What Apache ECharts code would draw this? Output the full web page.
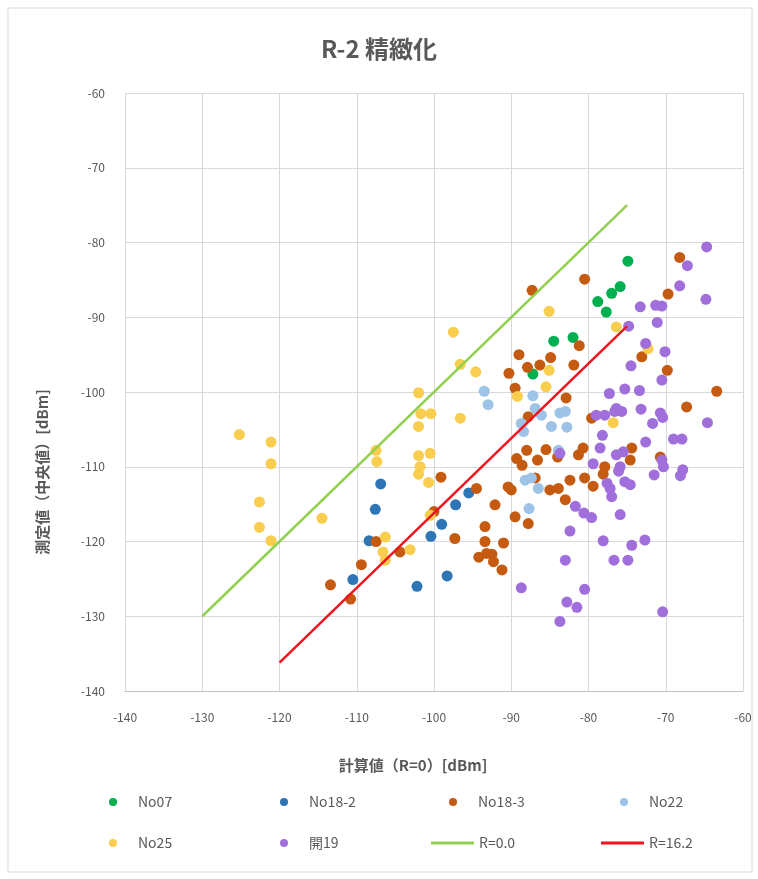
<!DOCTYPE html>
<html><head><meta charset="utf-8">
<script src="https://cdn.jsdelivr.net/npm/echarts@6/dist/echarts.min.js"></script>
<style>html,body{margin:0;padding:0;background:#fff}#c{width:758px;height:879px}</style>
</head><body><div id="c"></div>
<script>
const seriesNames = ['No07','No18-2','No18-3','No22','No25','開19','R=0.0','R=16.2'];
const xTicks = [-140,-130,-120,-110,-100,-90,-80,-70,-60];
const yTicks = [-60,-70,-80,-90,-100,-110,-120,-130,-140];

const no07 = [[-74.9,-82.5],[-75.9,-85.9],[-77.0,-86.8],[-78.8,-87.9],[-77.7,-89.3],[-84.5,-93.2],[-82.0,-92.7],[-87.2,-97.6]];
const no18_2 = [[-106.9,-112.3],[-107.6,-115.7],[-108.4,-119.9],[-110.5,-125.1],[-102.2,-126.0],[-98.3,-124.6],[-100.4,-119.3],[-99.0,-117.7],[-97.2,-115.1],[-95.5,-113.5]];
const no18_3 = [[-80.5,-84.9],[-87.3,-86.4],[-81.2,-93.8],[-89.0,-95.0],[-84.9,-95.4],[-87.9,-96.7],[-86.3,-96.4],[-90.3,-97.5],[-81.9,-96.4],[-89.5,-99.5],[-82.9,-100.8],
[-68.2,-82.0],[-69.7,-86.9],[-73.1,-95.3],[-69.8,-97.1],[-63.4,-99.9],[-67.3,-102.0],[-70.7,-108.7],
[-87.8,-103.3],[-79.6,-103.5],[-89.3,-108.9],[-88.6,-109.8],[-88.0,-107.8],[-86.6,-109.1],[-85.5,-107.7],[-84.0,-108.7],[-81.3,-108.4],[-80.7,-107.5],[-77.9,-110.0],[-78.1,-111.0],[-74.4,-107.5],[-74.6,-109.1],[-86.9,-111.5],[-85.0,-113.1],[-83.9,-112.9],[-83.0,-114.4],[-82.4,-111.8],[-80.5,-111.5],[-79.4,-112.6],[-90.4,-112.7],[-90.0,-113.1],[-92.1,-115.1],[-89.5,-116.7],[-87.8,-117.6],[-93.4,-118.0],[-93.4,-120.0],[-91.0,-120.2],[-93.2,-121.6],[-92.5,-121.7],[-92.3,-122.7],[-91.2,-123.8],
[-99.1,-111.4],[-94.5,-112.9],[-94.2,-122.1],[-97.3,-119.6],[-100.0,-116.0],[-104.4,-121.4],[-107.5,-120.0],[-109.4,-123.1],[-113.4,-125.8],[-110.8,-127.7]];
const no22 = [[-93.5,-99.9],[-93.0,-101.7],[-87.2,-100.5],[-86.9,-102.2],[-86.1,-103.1],[-84.8,-104.6],[-83.7,-102.8],[-83.0,-102.6],[-82.8,-104.7],[-88.7,-104.2],[-88.4,-105.3],[-83.9,-107.8],[-88.2,-111.8],[-87.4,-111.5],[-86.5,-112.9],[-87.7,-115.6]];
const no25 = [[-125.2,-105.7],[-121.1,-106.7],[-121.1,-109.6],[-122.6,-114.7],[-122.6,-118.1],[-121.1,-119.9],[-114.5,-116.9],
[-97.5,-92.0],[-96.6,-96.3],[-94.6,-97.3],[-102.0,-100.1],[-101.7,-102.9],[-100.4,-102.9],[-102.0,-104.6],[-96.6,-103.5],[-107.5,-107.8],[-107.4,-109.3],[-102.0,-108.5],[-100.5,-108.2],[-101.8,-110.0],[-102.0,-111.0],[-100.7,-112.1],
[-85.1,-89.2],[-85.1,-97.1],[-85.5,-99.3],[-89.2,-100.6],[-76.4,-91.3],[-72.3,-94.2],[-76.8,-104.1],
[-106.3,-119.4],[-106.6,-121.4],[-106.3,-122.5],[-103.1,-121.1],[-100.5,-116.5]];
const kai19 = [[-64.7,-80.6],[-67.2,-83.1],[-68.2,-85.8],[-64.8,-87.6],[-73.3,-88.6],[-71.3,-88.4],[-70.5,-88.5],[-71.1,-90.7],[-74.8,-91.2],[-72.6,-93.5],[-70.1,-94.6],[-74.5,-96.5],[-70.5,-98.4],[-77.3,-100.2],[-75.3,-99.6],[-73.4,-99.8],[-76.6,-102.6],[-75.7,-102.6],[-77.9,-103.1],[-73.2,-102.3],[-70.7,-102.8],[-70.4,-103.4],[-71.7,-104.2],[-64.6,-104.1],
[-72.6,-106.7],[-69.0,-106.3],[-67.9,-106.3],[-70.5,-109.1],[-70.3,-110.0],[-71.5,-111.1],[-67.8,-110.4],[-68.1,-111.2],[-72.7,-119.8],[-70.4,-129.4],
[-79.0,-103.1],[-76.4,-102.2],[-78.2,-105.8],[-78.5,-107.5],[-83.7,-108.2],[-76.4,-108.4],[-75.5,-108.0],[-79.4,-109.6],[-75.9,-110.0],[-76.1,-110.6],[-77.6,-112.2],[-77.2,-112.9],[-77.0,-114.0],[-75.3,-112.0],[-74.6,-112.4],[-81.7,-115.3],[-80.6,-116.2],[-79.6,-116.8],[-75.9,-116.4],[-82.4,-118.6],[-78.1,-119.9],[-74.4,-120.5],[-83.0,-122.5],[-76.7,-122.5],[-74.9,-122.5],[-88.7,-126.2],[-80.5,-126.4],[-82.8,-128.1],[-81.5,-128.8],[-83.7,-130.7]];
const lineR0 = [[-130,-130],[-75,-75]];
const lineR162 = [[-120,-136.2],[-75,-91.2]];

const colors = ['#00B050','#2E75B6','#C55A11','#9DC3E6','#F9CD4E','#A06FDB','#92D050','#F0141E'];
const FONT = '"Noto Sans CJK JP","Noto Sans",sans-serif';
const TXT = '#595959';

const scatterData = [no07,no18_2,no18_3,no22,no25,kai19];
const series = scatterData.map((d,i)=>({
  name: seriesNames[i], type:'scatter', data:d, symbolSize:11,
  itemStyle:{color:colors[i], opacity:1}, z:2+i
}));
series.push({name:seriesNames[6], type:'line', data:lineR0, symbol:'none', lineStyle:{color:colors[6],width:2.5}, itemStyle:{color:colors[6]}, z:10});
series.push({name:seriesNames[7], type:'line', data:lineR162, symbol:'none', lineStyle:{color:colors[7],width:2.5}, itemStyle:{color:colors[7]}, z:10});

const legPos = [[104,790],[275,790],[444,790],[615,790],[104,831],[275,831],[426,831],[596,831]];
const legends = seriesNames.map((n,i)=>{
  const isLine = i>=6;
  return {
    data:[{name:n, icon: isLine ? 'rect' : 'circle'}],
    left: legPos[i][0], top: legPos[i][1],
    itemWidth: isLine ? 43 : 40, itemHeight: isLine ? 3 : 8, itemGap:4,
    textStyle:{color:TXT, fontSize:14, fontFamily:FONT}
  };
});

const chart = echarts.init(document.getElementById('c'));
chart.setOption({
  animation:false,
  backgroundColor:'#fff',
  title:{text:'R-2 精緻化', left:'center', top:32, textStyle:{fontSize:24, fontWeight:'bold', color:TXT, fontFamily:FONT}},
  legend: legends,
  grid:{left:125, right:15, top:93, bottom:188},
  xAxis:{type:'value', min:xTicks[0], max:xTicks[xTicks.length-1], interval:10,
    axisLine:{show:true, onZero:false, lineStyle:{color:'#BFBFBF'}}, axisTick:{show:false},
    splitLine:{show:true, lineStyle:{color:'#D9D9D9'}},
    axisLabel:{color:TXT, fontSize:12, margin:20, fontFamily:FONT}},
  yAxis:{type:'value', min:yTicks[yTicks.length-1], max:yTicks[0], interval:10,
    axisLine:{show:true, onZero:false, lineStyle:{color:'#D9D9D9'}}, axisTick:{show:false},
    splitLine:{show:true, lineStyle:{color:'#D9D9D9'}},
    axisLabel:{color:TXT, fontSize:12, margin:20, fontFamily:FONT}},
  graphic:[
    {type:'rect', shape:{x:8,y:8,width:744,height:864}, style:{fill:'none', stroke:'#D9D9D9', lineWidth:1}, z:-1, silent:true},
    {type:'text', x:413, y:765, style:{text:'計算値（R=0）[dBm]', font:'bold 15px '+FONT, fill:TXT, textAlign:'center', textVerticalAlign:'middle'}},
    {type:'text', x:42, y:472, rotation:Math.PI/2, style:{text:'測定値（中央値）[dBm]', font:'bold 15px '+FONT, fill:TXT, textAlign:'center', textVerticalAlign:'middle'}}
  ],
  series: series
});
</script></body></html>
